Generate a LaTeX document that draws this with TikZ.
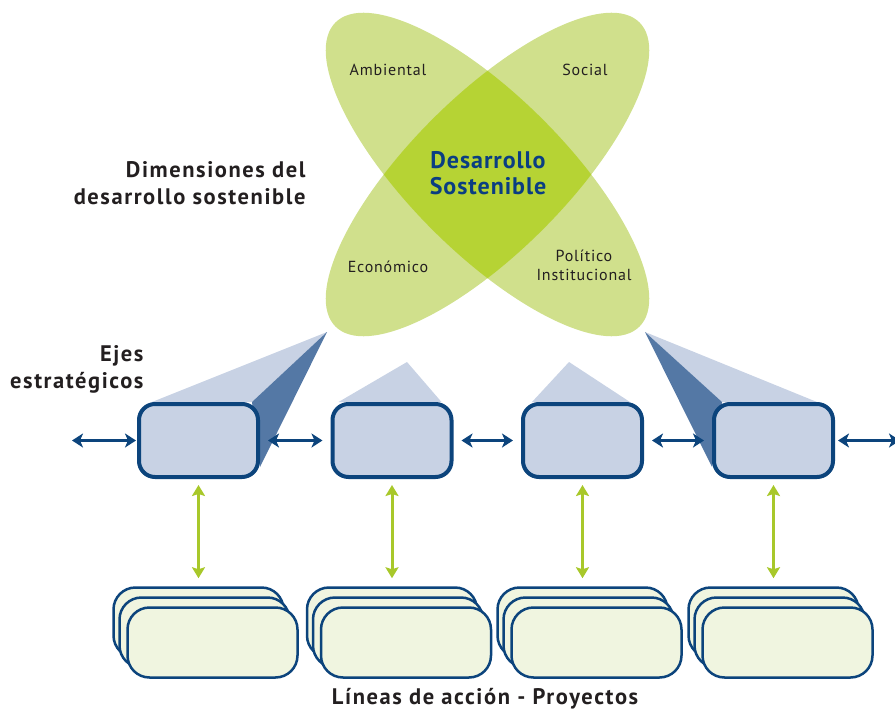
\documentclass[tikz,border=0pt]{standalone}
\usepackage{fontspec}
\setmainfont{PT Sans}
\usetikzlibrary{arrows.meta,backgrounds}

\definecolor{petal}{RGB}{208,224,140}
\definecolor{core}{RGB}{182,211,52}
\definecolor{navy}{RGB}{12,68,124}
\definecolor{titleblue}{RGB}{10,62,130}
\definecolor{ejefill}{RGB}{200,210,228}
\definecolor{conedark}{RGB}{84,120,165}
\definecolor{lime}{RGB}{168,200,42}
\definecolor{linfill}{RGB}{240,245,224}
\definecolor{textgray}{RGB}{35,31,32}

\begin{document}
\begin{tikzpicture}[x=1pt, y=-1pt,
  eje/.style={draw=navy, fill=ejefill, line width=4pt, rounded corners=16pt, minimum width=119pt, minimum height=73pt},
  linea/.style={draw=navy, fill=linfill, line width=2.5pt, rounded corners=22pt, minimum width=170pt, minimum height=70pt},
  navyarrow/.style={navy, line width=3.5pt, {Stealth[length=11pt,width=14pt,inset=3pt]}-{Stealth[length=11pt,width=14pt,inset=3pt]}},
  limearrow/.style={lime, line width=3pt, {Stealth[length=11pt,width=13pt,inset=2pt]}-{Stealth[length=11pt,width=13pt,inset=2pt]}},
  label/.style={text=textgray, font=\bfseries\fontsize{22.5}{27}\selectfont\addfontfeature{LetterSpace=7}}]
\useasboundingbox (0,0) rectangle (895,712);

% Define the two crossing petals
\coordinate (c) at (487.5,174.5);
\fill[petal, rotate around={45:(c)}] (c) ellipse [x radius=215, y radius=78];
\fill[petal, rotate around={-45:(c)}] (c) ellipse [x radius=215, y radius=78];
\begin{scope}
  \clip[rotate around={45:(c)}] (c) ellipse [x radius=215, y radius=78];
  \fill[core, rotate around={-45:(c)}] (c) ellipse [x radius=215, y radius=78];
\end{scope}

\foreach \name/\x/\y/\txt in {amb/388/70/Ambiental, soc/585/70/Social, eco/388/267/Económico, pol/584/265/{Político\\Institucional}} {
    \node[align=center, text=textgray, font=\fontsize{16}{19}\selectfont\addfontfeature{LetterSpace=5}] (\name) at (\x,\y) {\txt};
}
\node[align=center, text=titleblue, font=\bfseries\fontsize{24}{26}\selectfont\addfontfeature{LetterSpace=4}] (ds) at (488,173) {Desarrollo\\Sostenible};
\node[label, anchor=east, align=right] (dim) at (309,183) {Dimensiones del\\desarrollo sostenible};

% Define the strategic axes in a loop
\foreach \i/\x in {1/198.5, 2/392, 3/582.5, 4/773.5} {
    \node[eje] (eje\i) at (\x,440.5) {};
}
\node[label, anchor=east, align=right] (ejes) at (147,369) {Ejes\\estratégicos};

% Cones from the petals down to the axes
\foreach \i/\ax/\ay in {1/327/332, 2/407/362, 3/569/362, 4/645/332} {
    \coordinate (apex\i) at (\ax,\ay);
}
\begin{pgfonlayer}{background}
  \fill[ejefill] (apex1) -- ([xshift=15pt]eje1.north west) -- ([xshift=-8pt]eje1.north east) -- cycle;
  \fill[conedark] (apex1) -- ([xshift=-8pt]eje1.north east) -- ([yshift=12pt]eje1.south east) -- cycle;
  \fill[ejefill] (apex2) -- ([xshift=8pt]eje2.north west) -- ([xshift=-12pt]eje2.north east) -- cycle;
  \fill[ejefill] (apex3) -- ([xshift=11pt]eje3.north west) -- ([xshift=-14pt]eje3.north east) -- cycle;
  \fill[ejefill] (apex4) -- ([xshift=10pt]eje4.north west) -- ([xshift=-18pt]eje4.north east) -- cycle;
  \fill[conedark] (apex4) -- ([xshift=10pt]eje4.north west) -- ([yshift=12pt]eje4.south west) -- cycle;
\end{pgfonlayer}

% Define horizontal links in a loop
\coordinate (izq) at (72,440.5);
\coordinate (der) at (900,440.5);
\draw[navyarrow, shorten >=1pt] (izq) -- (eje1.west);
\foreach \a/\b in {1/2, 2/3, 3/4} {
    \draw[navyarrow, shorten <=8pt, shorten >=8pt] (eje\a.east) -- (eje\b.west);
}
\draw[navyarrow, shorten <=3pt] (eje4.east) -- (der);

% Stacks of action lines with their links
\foreach \i/\x in {1/198.5, 2/392, 3/582.5, 4/773.5} {
    \node[linea] (atras\i) at (\x,622.5) {};
    \node[linea] (medio\i) at (\x+6,632.5) {};
    \node[linea] (frente\i) at (\x+14,642.5) {};
    \draw[limearrow, shorten <=6pt, shorten >=8pt] (eje\i.south) -- (atras\i.north);
}
\node[label] (lineas) at (485,699) {Líneas de acción - Proyectos};

\end{tikzpicture}
\end{document}
